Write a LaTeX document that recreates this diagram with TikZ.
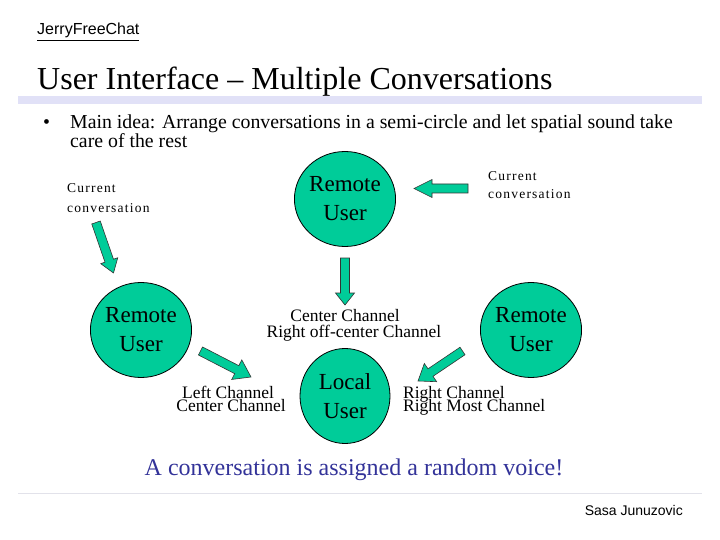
\documentclass[tikz,border=0pt]{standalone}
\usepackage{fontspec}
\setmainfont{Liberation Serif}
\newfontfamily\arialf{Liberation Sans}
\newfontfamily\spacedf[LetterSpace=9]{Liberation Serif}
\usetikzlibrary{shapes.geometric}
\definecolor{userfill}{RGB}{0,204,153}
\definecolor{barlav}{RGB}{225,225,247}
\definecolor{rulegray}{RGB}{226,226,234}
\definecolor{noteblue}{RGB}{51,51,153}
\tikzset{
  userbub/.style={ellipse, draw=black, line width=0.8pt, fill=userfill, minimum width=90pt, minimum height=95pt, inner sep=0pt, align=center, font=\fontsize{23}{29}\selectfont},
  blockarr/.style={draw=black!80, line width=0.6pt, fill=userfill, line join=miter},
  chan/.style={inner sep=0pt, font=\fontsize{17.5}{18}\selectfont},
  curconv/.style={inner sep=0pt, font=\fontsize{13.5}{19}\spacedf\selectfont, align=left},
  bultext/.style={anchor=base west, inner sep=0pt, font=\fontsize{19.8}{22}\selectfont},
}
% block arrow from (x1,y1) to tip (x2,y2), head length #5, head half width #6
\newcommand{\blockarrow}[6]{%
  \pgfmathsetmacro\barang{atan2(#2-#4,#3-#1)}%
  \pgfmathsetmacro\barlen{veclen(#3-#1,#4-#2)}%
  \begin{scope}[shift={(#1,#2)},rotate=\barang]
    \draw[blockarr] (0,-4.5) -- ({\barlen-#5},-4.5) -- ({\barlen-#5},-#6) -- (\barlen,0)
      -- ({\barlen-#5},#6) -- ({\barlen-#5},4.5) -- (0,4.5) -- cycle;
  \end{scope}}
\begin{document}
\begin{tikzpicture}[x=1pt,y=-1pt]
\useasboundingbox (0,0) rectangle (720,540);
\fill[white] (0,0) rectangle (720,540);
% header
\node[anchor=base west, inner sep=0pt, font=\fontsize{16}{18}\arialf] (hdr) at (37,35) {\underline{JerryFreeChat}};
\node[anchor=base west, inner sep=0pt, font=\fontsize{32}{36}\selectfont] (title) at (37,90) {User Interface -- Multiple Conversations};
\fill[barlav] (18,96) rectangle (702,104);
% bullet
\node[bultext] (bul) at (43,129) {\textbullet};
\node[bultext] (main1) at (70,129) {Main idea: Arrange conversations in a semi-circle and let spatial sound take};
\node[bultext] (main2) at (70,148) {care of the rest};
% current conversation labels
\node[curconv, anchor=base west] (ccl1) at (67,193) {Current};
\node[curconv, anchor=base west] (ccl2) at (67,212) {conversation};
\node[curconv, anchor=base west] (ccr1) at (488,181) {Current};
\node[curconv, anchor=base west] (ccr2) at (488,199) {conversation};
% users
\node[userbub] (rtop) at (345,199) {Remote\\User};
\node[userbub] (rleft) at (141,330) {Remote\\User};
\node[userbub] (rright) at (531,330) {Remote\\User};
\node[userbub] (local) at (345,396) {Local\\User};
% channel labels
\node[chan, anchor=base] (cc1) at (345,321) {Center Channel};
\node[chan, anchor=base] (cc2) at (354,337) {Right off-center Channel};
\node[chan, anchor=base] (lc1) at (228,398) {Left Channel};
\node[chan, anchor=base] (lc2) at (231,411) {Center Channel};
\node[chan, anchor=base west] (rc1) at (403,398) {Right Channel};
\node[chan, anchor=base west] (rc2) at (403,411) {Right Most Channel};
% arrows
\blockarrow{96}{222.5}{113.5}{273}{13}{9}
\blockarrow{345}{258}{345}{305}{12}{9.5}
\blockarrow{468}{188.5}{414}{188.5}{18}{9}
\blockarrow{200.5}{351}{251}{377}{16}{11}
\blockarrow{462.5}{351}{418}{381}{15}{11}
% footer
\node[anchor=base, inner sep=0pt, text=noteblue, font=\fontsize{24}{28}\selectfont] (note) at (354,475) {A conversation is assigned a random voice!};
\draw[rulegray, line width=1pt] (18,493) -- (702,493);
\node[anchor=base east, inner sep=0pt, font=\fontsize{14}{16}\arialf] (auth) at (683,515) {Sasa Junuzovic};
\end{tikzpicture}
\end{document}
